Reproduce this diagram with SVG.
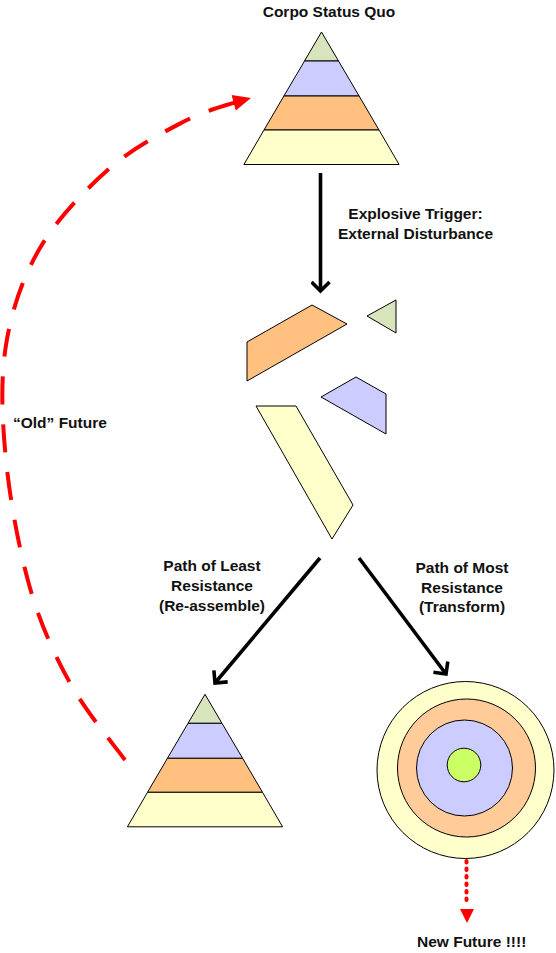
<svg xmlns="http://www.w3.org/2000/svg" width="556" height="953" viewBox="0 0 556 953">
<style>
.lbl{font-family:"Liberation Sans",Arial,sans-serif;font-weight:bold;font-size:15.5px;fill:#111;text-anchor:middle}
.lft{text-anchor:start}
.sh{stroke:#000;stroke-width:1;stroke-linejoin:round}
.g{fill:#D8E4BC}.b{fill:#CCCCFF}.o{fill:#FFC080}.y{fill:#FFFFCC}
.blk{stroke:#000;stroke-width:3.6;fill:none}
.red{stroke:#FF0000;stroke-width:4;fill:none}
</style>
<defs>
<marker id="chev" markerUnits="userSpaceOnUse" viewBox="0 0 20 20" markerWidth="20" markerHeight="20" refX="16" refY="10" orient="auto">
<path d="M7,1 L16,10 L7,19" fill="none" stroke="#000" stroke-width="3.6"/>
</marker>
<g id="pyr" class="sh">
<polygon class="g" points="0,0 17,29 -17,29"/>
<polygon class="b" points="-17,29 17,29 37.6,64 -37.6,64"/>
<polygon class="o" points="-37.6,64 37.6,64 57.5,98 -57.5,98"/>
<polygon class="y" points="-57.5,98 57.5,98 77.6,132.5 -77.6,132.5"/>
</g>
</defs>
<rect width="556" height="953" fill="#fff"/>
<g id="status-quo">
<use href="#pyr" transform="translate(321.5,32)"/>
<text class="lbl" x="329" y="17">Corpo Status Quo</text>
</g>
<g id="fragments" class="sh">
<polygon class="o" points="247,342 312,305 347,324 247,381"/>
<polygon class="g" points="367,316 396,300 396,333"/>
<polygon class="b" points="321,397 356,377 386,394 386,434"/>
<polygon class="y" points="256,406 296,406 353,505 332,539"/>
</g>
<g id="reassembled">
<use href="#pyr" transform="translate(205,694.3)"/>
</g>
<g id="transformed" class="sh">
<circle cx="465.5" cy="770" r="88.5" class="y"/>
<circle cx="466.5" cy="768" r="69" fill="#FFCC99"/>
<circle cx="464.5" cy="768" r="48" class="b"/>
<circle cx="464" cy="765" r="16.8" fill="#CCFF66"/>
</g>
<g id="connectors">
<line class="blk" x1="320.5" y1="173" x2="320.5" y2="291" marker-end="url(#chev)"/>
<line class="blk" x1="320" y1="558" x2="215" y2="683" marker-end="url(#chev)"/>
<line class="blk" x1="359" y1="558" x2="446" y2="674" marker-end="url(#chev)"/>
<path class="red" stroke-dasharray="28 20" d="M125,760 C115.8,747.2 85.8,711.7 70,683 C54.2,654.3 40.8,625.2 30,588 C19.3,550.8 10,500.5 6,460 C2,419.5 0.3,380.3 6,345 C11.7,309.7 22.7,277.5 40,248 C57.3,218.5 85.8,189.2 110,168 C134.2,146.8 164,132 185,121 C206,110 227.5,105.2 236,102"/>
<polygon fill="#FF0000" points="251,98 231.6,95.1 235.8,110.5"/>
<line class="red" stroke-width="4.2" stroke-linecap="round" stroke-dasharray="1.5 6" x1="466.5" y1="861" x2="466.5" y2="906"/>
<polygon fill="#FF0000" points="460,909 474,909 467,923"/>
</g>
<g id="labels">
<text class="lbl" x="415.5" y="219">Explosive Trigger:</text>
<text class="lbl" x="415.5" y="239">External Disturbance</text>
<text class="lbl" x="212" y="571">Path of Least</text>
<text class="lbl" x="212" y="591">Resistance</text>
<text class="lbl" x="212" y="611">(Re-assemble)</text>
<text class="lbl" x="462" y="573">Path of Most</text>
<text class="lbl" x="462" y="593">Resistance</text>
<text class="lbl" x="462" y="612">(Transform)</text>
<text class="lbl lft" x="13" y="428">“Old” Future</text>
<text class="lbl lft" x="417" y="947">New Future !!!!</text>
</g>
</svg>
